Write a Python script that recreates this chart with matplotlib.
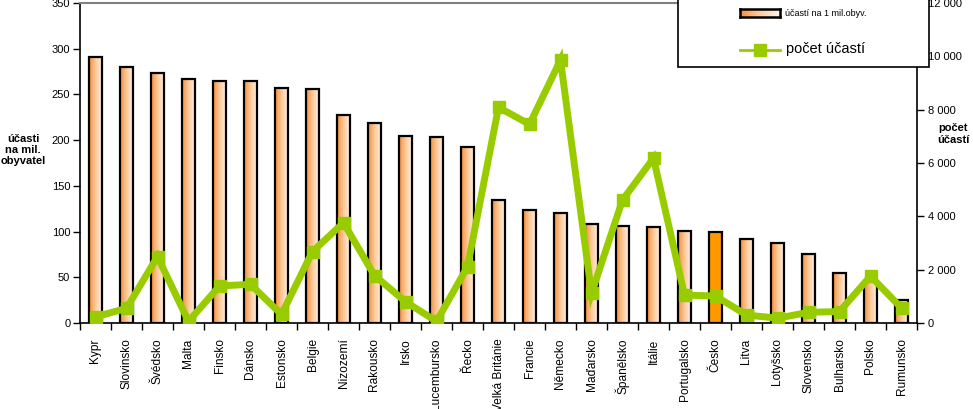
import numpy as np
import matplotlib
matplotlib.use("Agg")
import matplotlib.pyplot as plt
from matplotlib.patches import Rectangle
from matplotlib.lines import Line2D
from matplotlib.colors import LinearSegmentedColormap
from matplotlib.ticker import FuncFormatter, FixedLocator

plt.rcParams['font.family'] = ['Liberation Sans', 'DejaVu Sans']

countries = ["Kypr", "Slovinsko", "Švédsko", "Malta", "Finsko", "Dánsko", "Estonsko",
             "Belgie", "Nizozemí", "Rakousko", "Irsko", "Lucembursko", "Řecko",
             "Velká Británie", "Francie", "Německo", "Maďarsko", "Španělsko", "Itálie",
             "Portugalsko", "Česko", "Litva", "Lotyšsko", "Slovensko", "Bulharsko",
             "Polsko", "Rumunsko"]
per_million = [291, 280, 273, 267, 265, 265, 257, 256, 228, 219, 204, 203, 192,
               134, 124, 120, 108, 106, 105, 101, 99, 92, 88, 76, 55, 46, 25]
count = [230, 550, 2490, 60, 1390, 1450, 320, 2680, 3760, 1780, 800, 60, 2110,
         8090, 7450, 9860, 1110, 4610, 6180, 1050, 1010, 300, 180, 400, 430, 1760, 560]
highlight = "Česko"

W, H = 973, 409
fig = plt.figure(figsize=(W / 100, H / 100), dpi=100)
ax = fig.add_axes([80 / W, 1 - 323 / H, (917 - 80) / W, 320 / H])
ax2 = ax.twinx()

x = np.arange(len(countries))
bw = 0.44
cmap = LinearSegmentedColormap.from_list("g", [(0.96, 0.56, 0.24), (1.0, 0.80, 0.62), (1.0, 0.96, 0.92)])
grad = np.linspace(0, 1, 64).reshape(1, -1)
bars = ax.bar(x, per_million, width=bw, facecolor="none", edgecolor="black", linewidth=1.6, zorder=3)
for xi, b, name in zip(x, bars, countries):
    x0 = b.get_x()
    h = b.get_height()
    if name == highlight:
        ax.add_patch(Rectangle((x0, 0), bw, h, facecolor="#FF9900", edgecolor="none", zorder=2))
    else:
        ax.imshow(grad, cmap=cmap, extent=(x0, x0 + bw, 0, h), aspect="auto", zorder=2,
                  interpolation="bilinear")

ax.set_xlim(-0.5, len(countries) - 0.5)
ax.set_ylim(0, 350)
ax.set_yticks(np.arange(0, 351, 50))
ax.set_xticks(x)
ax.set_xticklabels(countries, rotation=90, fontsize=8.6)
ax.xaxis.set_minor_locator(FixedLocator(np.arange(-0.5, len(countries), 1.0)))
ax.tick_params(axis="x", which="major", length=0, pad=11)
ax.tick_params(axis="x", which="minor", length=5, direction="out", width=1)
ax.tick_params(axis="y", length=5, width=1, labelsize=8, pad=2)
ax.spines["top"].set_color("#808080")
ax.spines["top"].set_linewidth(1.5)
ax.spines["left"].set_linewidth(1.2)
ax.spines["bottom"].set_linewidth(1.2)
ax.spines["right"].set_visible(False)

ax2.plot(x, count, color="#99CC00", linewidth=5, marker="s", markersize=8,
         markerfacecolor="#99CC00", markeredgecolor="#99CC00", zorder=5, solid_joinstyle="miter")
ax2.set_ylim(0, 12000)
ax2.set_yticks(np.arange(0, 12001, 2000))
ax2.yaxis.set_major_formatter(FuncFormatter(lambda v, p: f"{int(v):,}".replace(",", " ")))
ax2.tick_params(axis="y", length=5, width=1, labelsize=8, pad=3)
ax2.spines["right"].set_linewidth(1.2)
ax2.spines["top"].set_visible(False)
ax2.spines["left"].set_visible(False)
ax2.spines["bottom"].set_visible(False)

fig.text(23 / W, 1 - 150 / H, "účasti\nna mil.\nobyvatel", ha="center", va="center",
         fontsize=8, fontweight="bold", linespacing=1.1)
fig.text(953 / W, 1 - 134 / H, "počet\núčastí", ha="center", va="center",
         fontsize=8, fontweight="bold", linespacing=1.3)

# legend box
tf = fig.transFigure
fig.patches.append(Rectangle((678 / W, 1 - 67 / H), 251 / W, 80 / H, transform=tf,
                             facecolor="white", edgecolor="black", linewidth=1.2, zorder=10))
lg_img_ax = fig.add_axes([740 / W, 1 - 17 / H, 40 / W, 8 / H], zorder=11)
lg_img_ax.imshow(grad, cmap=cmap, aspect="auto", extent=(0, 1, 0, 1))
lg_img_ax.set_xticks([]); lg_img_ax.set_yticks([])
for s in lg_img_ax.spines.values():
    s.set_linewidth(1.8)
fig.text(785 / W, 1 - 13 / H, "účastí na 1 mil.obyv.", ha="left", va="center", fontsize=6.5, zorder=12)
fig.lines.append(Line2D([740 / W, 780 / W], [1 - 50 / H, 1 - 50 / H], transform=tf,
                        color="#99CC00", linewidth=2, zorder=12))
fig.lines.append(Line2D([760 / W], [1 - 50 / H], transform=tf, marker="s", markersize=8,
                        color="#99CC00", zorder=12))
fig.text(786 / W, 1 - 49 / H, "počet účastí", ha="left", va="center", fontsize=10.5, zorder=12)

fig.savefig("out.png", dpi=100)
